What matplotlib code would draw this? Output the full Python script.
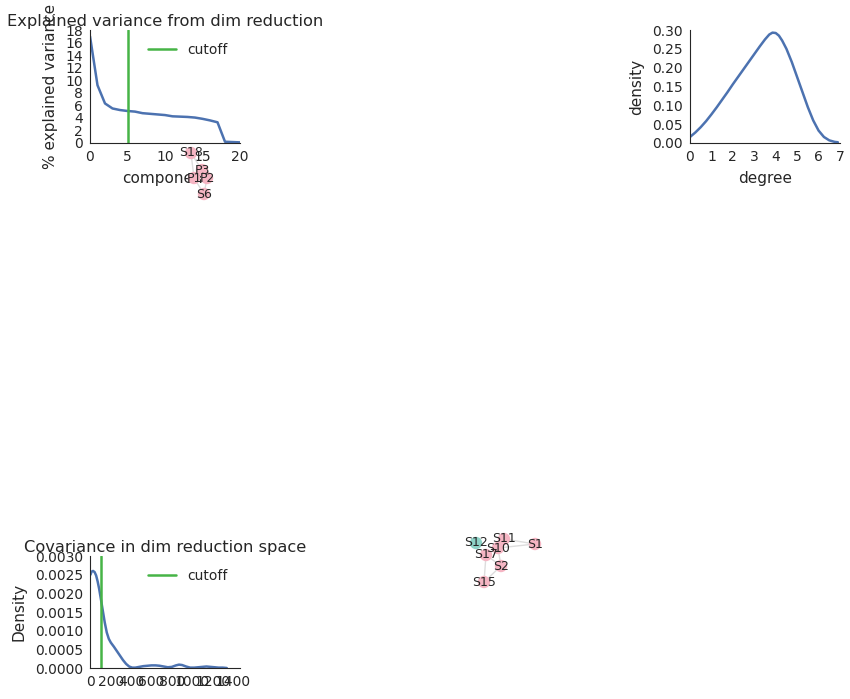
import numpy as np
import matplotlib
matplotlib.use("Agg")
import matplotlib.pyplot as plt
import seaborn as sns

sns.set_style("white")
plt.rcParams['font.family'] = ['DejaVu Sans']

# explained variance per component
components = np.arange(21)
explained_var = [17.0, 9.2, 6.3, 5.5, 5.25, 5.1, 5.0, 4.75, 4.65, 4.55, 4.45,
                 4.25, 4.2, 4.15, 4.05, 3.85, 3.6, 3.3, 0.2, 0.15, 0.1]
var_cutoff = 5

# degree density
degree = [0, 0.25, 0.5, 0.75, 1, 1.25, 1.5, 1.75, 2, 2.25, 2.5, 2.75, 3,
          3.25, 3.5, 3.7, 3.85, 4.0, 4.15, 4.3, 4.5, 4.75, 5, 5.25, 5.5,
          5.75, 6, 6.25, 6.5, 6.75, 6.9]
degree_density = [0.016, 0.028, 0.042, 0.058, 0.076, 0.095, 0.115, 0.135,
                  0.156, 0.176, 0.196, 0.216, 0.236, 0.256, 0.275, 0.288,
                  0.293, 0.292, 0.285, 0.272, 0.250, 0.215, 0.175, 0.135,
                  0.095, 0.060, 0.033, 0.016, 0.007, 0.003, 0.002]

# covariance density
cov_x = [0, 10, 25, 40, 55, 70, 85, 100, 120, 140, 160, 180, 200, 230, 260,
         290, 320, 350, 380, 410, 440, 480, 520, 560, 600, 640, 680, 720,
         760, 800, 840, 870, 900, 940, 980, 1020, 1060, 1100, 1140, 1180,
         1220, 1260, 1300, 1340]
cov_density = [0.00250, 0.00258, 0.00260, 0.00257, 0.00248, 0.00232,
               0.00212, 0.00188, 0.00155, 0.00122, 0.00095, 0.00078,
               0.00068, 0.00057, 0.00045, 0.00033, 0.00021, 0.00011,
               0.00004, 0.00001, 0.00001, 0.00003, 0.00005, 0.00006,
               0.00007, 0.00007, 0.00006, 0.00004, 0.00002, 0.00003,
               0.00007, 0.00009, 0.00008, 0.00004, 0.00001, 0.00001,
               0.00002, 0.00003, 0.00004, 0.00003, 0.00002, 0.00001,
               0.00001, 0.0]
cov_cutoff = 100

# network layouts (figure pixel positions)
net1_nodes = ['S18', 'P3', 'P1', 'P2', 'S6']
net1_x = [191, 202, 194, 207, 204]
net1_y = [153, 170, 178, 178, 194]
net1_edges = [('S18', 'P3'), ('S18', 'P1'), ('P3', 'P2'), ('P1', 'P2'),
              ('P2', 'S6'), ('P1', 'S6')]
net1_colors = ['pink'] * 5

net2_nodes = ['S12', 'S11', 'S10', 'S1', 'S17', 'S2', 'S15']
net2_x = [476, 504, 498, 535, 486, 501, 484]
net2_y = [543, 539, 548, 544, 555, 566, 582]
net2_edges = [('S10', 'S1'), ('S11', 'S1'), ('S17', 'S15'), ('S17', 'S10'),
              ('S10', 'S2'), ('S2', 'S15'), ('S17', 'S2')]
net2_colors = ['teal', 'pink', 'pink', 'pink', 'pink', 'pink', 'pink']

blue = '#4c72b0'
green = '#46b446'
node_cmap = {'pink': '#f5b5c3', 'teal': '#8dd3c7'}

fig = plt.figure(figsize=(8.5, 6.99), dpi=100)
W, H = 850, 699


def box(x0, y0, x1, y1):
    return [x0 / W, 1 - y1 / H, (x1 - x0) / W, (y1 - y0) / H]


def style(ax):
    sns.despine(ax=ax)
    ax.tick_params(labelsize=10, length=0, pad=5)


# explained variance
ax1 = fig.add_axes(box(90, 30, 240, 143))
ax1.plot(components, explained_var, color=blue, lw=1.8)
ax1.axvline(var_cutoff, color=green, lw=1.8, label='cutoff')
ax1.set_xlim(0, 20)
ax1.set_ylim(0, 18)
ax1.set_yticks(range(0, 19, 2))
ax1.set_xticks([0, 5, 10, 15, 20])
ax1.set_xlabel('component', fontsize=11, labelpad=5)
ax1.set_ylabel('% explained variance', fontsize=11, labelpad=5)
ax1.set_title('Explained variance from dim reduction', fontsize=11.7, pad=3)
ax1.legend(loc='upper right', frameon=False, fontsize=10)
style(ax1)

# degree
ax2 = fig.add_axes(box(690, 30, 840, 143))
ax2.plot(degree, degree_density, color=blue, lw=1.8)
ax2.set_xlim(0, 7)
ax2.set_ylim(0, 0.30)
ax2.set_xticks(range(0, 8))
ax2.set_yticks(np.arange(0, 0.31, 0.05))
ax2.yaxis.set_major_formatter(matplotlib.ticker.FormatStrFormatter('%.2f'))
ax2.set_xlabel('degree', fontsize=11, labelpad=5)
ax2.set_ylabel('density', fontsize=11, labelpad=6)
style(ax2)

# covariance
ax3 = fig.add_axes(box(90, 556, 240, 668))
ax3.plot(cov_x, cov_density, color=blue, lw=1.8)
ax3.axvline(cov_cutoff, color=green, lw=1.8, label='cutoff')
ax3.set_xlim(-5, 1470)
ax3.set_ylim(0, 0.003)
ax3.set_xticks(range(0, 1401, 200))
ax3.set_yticks(np.arange(0, 0.00301, 0.0005))
ax3.yaxis.set_major_formatter(matplotlib.ticker.FormatStrFormatter('%.4f'))
ax3.set_ylabel('Density', fontsize=11, labelpad=6)
ax3.set_title('Covariance in dim reduction space', fontsize=11.7, pad=3)
ax3.legend(loc='upper right', frameon=False, fontsize=10)
style(ax3)

# networks on overlay axes
axn = fig.add_axes([0, 0, 1, 1], facecolor='none')
axn.set_xlim(0, W)
axn.set_ylim(H, 0)
axn.axis('off')
for nodes, xs, ys, edges, cols in [
        (net1_nodes, net1_x, net1_y, net1_edges, net1_colors),
        (net2_nodes, net2_x, net2_y, net2_edges, net2_colors)]:
    pos = {n: (x, y) for n, x, y in zip(nodes, xs, ys)}
    for a, b in edges:
        axn.plot([pos[a][0], pos[b][0]], [pos[a][1], pos[b][1]],
                 color='#dddddd', lw=1, zorder=1)
    axn.scatter(xs, ys, s=80, c=[node_cmap[c] for c in cols], zorder=2,
                linewidths=0)
    for n, x, y in zip(nodes, xs, ys):
        axn.text(x, y, n, ha='center', va='center', fontsize=9, zorder=3)

fig.savefig('out.png', dpi=100)
